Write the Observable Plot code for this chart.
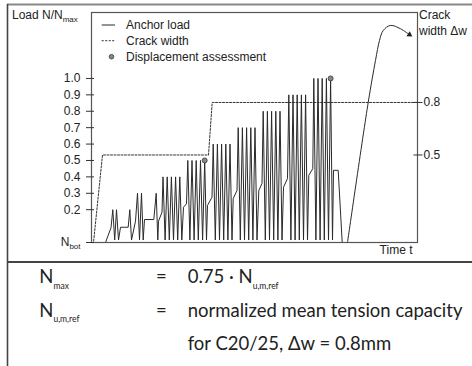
<!DOCTYPE html>
<html><head><meta charset="utf-8">
<script src="https://cdn.jsdelivr.net/npm/d3@7"></script>
<script src="https://cdn.jsdelivr.net/npm/@observablehq/plot@0.6"></script>
<style>
html,body{margin:0;padding:0;background:#fff;}
#wrap{position:relative;width:472px;height:366px;overflow:hidden;}
#bg{position:absolute;left:0;top:0;}
#chart{position:absolute;left:0;top:0;}
</style></head><body>
<div id="wrap"><svg id="bg" width="472" height="366"></svg><div id="chart"></div></div>
<script>
// ---- data (time in arbitrary units, load in N/Nmax, crack width in mm) ----
const loadT = [0, 14, 19.5, 21.3, 23.2, 25, 27, 29, 36.7, 38.3, 40, 44, 46, 48, 50, 51.7, 53, 62.3, 64.7, 66.3, 67, 70.5,
  71.5, 73.6, 75.7, 77.8, 79.9, 82, 84.1, 86.2, 88.3, 90.3,
  92, 95,
  96.3, 98.4, 100.5, 102.6, 104.7, 106.8, 109, 111.1, 113.2, 115,
  116, 120.5,
  121.7, 123.8, 125.9, 128, 130.1, 132.2, 134.3, 136.4, 138.5, 140.5,
  141.7, 145.5,
  146.7, 148.8, 150.9, 153, 155.1, 157.2, 159.3, 161.4, 163.5, 165.5,
  167.3, 170.5,
  171.7, 173.8, 175.9, 178, 180.1, 182.2, 184.3, 186.4, 188.5, 190.5,
  192, 196,
  197.3, 199.4, 201.5, 203.6, 205.7, 207.8, 209.9, 212, 214.1, 216,
  217.3, 221.3,
  222.3, 224.4, 226.5, 228.6, 230.7, 232.8, 234.9, 237, 239.1, 241,
  242, 246.7, 250.7, 256];
const loadN = [0, 0, 0.09, 0.2, 0.015, 0.2, 0.015, 0.093, 0.093, 0.2, 0.015, 0.13, 0.3, 0.015, 0.3, 0.015, 0.14, 0.14, 0.3, 0.015, 0.13, 0.185,
  0.4, 0.015, 0.4, 0.015, 0.4, 0.015, 0.4, 0.015, 0.4, 0.015,
  0.215, 0.236,
  0.5, 0.015, 0.5, 0.015, 0.5, 0.015, 0.5, 0.015, 0.5, 0.015,
  0.226, 0.276,
  0.6, 0.015, 0.6, 0.015, 0.6, 0.015, 0.6, 0.015, 0.6, 0.015,
  0.268, 0.317,
  0.7, 0.015, 0.7, 0.015, 0.7, 0.015, 0.7, 0.015, 0.7, 0.015,
  0.317, 0.36,
  0.8, 0.015, 0.8, 0.015, 0.8, 0.015, 0.8, 0.015, 0.8, 0.015,
  0.337, 0.39,
  0.9, 0.015, 0.9, 0.015, 0.9, 0.015, 0.9, 0.015, 0.9, 0.015,
  0.41, 0.45,
  1.0, 0.015, 1.0, 0.015, 1.0, 0.015, 1.0, 0.015, 1.0, 0.015,
  0.44, 0.44, 0, 0];
const crackT = [0, 2, 11, 117, 120.7, 326];
const crackW = [0, 0, 0.5, 0.5, 0.8, 0.8];
const failT = [256, 276.7, 284, 288, 291.7, 299, 309, 318];
const failW = [0, 0.8, 1.04, 1.154, 1.211, 1.24, 1.221, 1.187];
const assessT = [113.2, 239.1];
const assessN = [0.5, 1.0];
const loadTicks = [0, 0.2, 0.3, 0.4, 0.5, 0.6, 0.7, 0.8, 0.9, 1.0];
const loadTickLabels = ["Nbot", "0.2", "0.3", "0.4", "0.5", "0.6", "0.7", "0.8", "0.9", "1.0"];
const crackTicks = [0.5, 0.8];
const crackTickLabels = ["0.5", "0.8"];
const legendLabels = ["Anchor load", "Crack width", "Displacement assessment"];
const timeLabel = "Time t";

// ratio between right (crack width) and left (load) axis units
const k = 175 / 164;
const load = loadT.map((t, i) => ({t, n: loadN[i]}));
const crack = crackT.map((t, i) => ({t, n: crackW[i] * k}));
const fail = failT.map((t, i) => ({t, n: failW[i] * k}));
const assess = assessT.map((t, i) => ({t, n: assessN[i]}));
const crackTickPos = crackTicks.map(v => v * k);

const font = "'Liberation Sans', Arial, sans-serif";
const chart = Plot.plot({
  width: 472, height: 262,
  marginLeft: 91, marginRight: 55, marginTop: 12, marginBottom: 20,
  x: {domain: [0, 326], axis: null},
  y: {domain: [0, 1.402], axis: null},
  style: {fontFamily: font, fontSize: "12px", color: "#222", background: "transparent"},
  marks: [
    Plot.line(crack, {x: "t", y: "n", stroke: "#333", strokeWidth: 1, strokeDasharray: "2,1.5"}),
    Plot.line(load, {x: "t", y: "n", stroke: "#2a2a2a", strokeWidth: 1}),
    Plot.line(fail, {x: "t", y: "n", stroke: "#2a2a2a", strokeWidth: 1, curve: "catmull-rom"}),
    Plot.dot(fail.slice(-1), {x: "t", y: "n", symbol: "triangle", r: 2.2, fill: "#222", rotate: 124}),
    Plot.dot(assess, {x: "t", y: "n", r: 2.5, fill: "#888", stroke: "#333", strokeWidth: 0.8}),
    Plot.frame({stroke: "#555", strokeWidth: 1.2}),
    Plot.axisY(loadTicks, {anchor: "left", tickSize: 0, tickPadding: 11, tickFormat: d => loadTickLabels[loadTicks.indexOf(d)], label: null}),
    Plot.axisY(loadTicks, {anchor: "left", tickSize: 8, dx: 3, tickFormat: () => "", label: null, stroke: "#333"}),
    Plot.axisY(crackTickPos, {anchor: "right", tickSize: 0, tickPadding: 6, tickFormat: d => crackTickLabels[crackTickPos.indexOf(d)], label: null}),
    Plot.axisY(crackTickPos, {anchor: "right", tickSize: 9, dx: -4.5, tickFormat: () => "", label: null, stroke: "#333"}),
    Plot.text([timeLabel], {frameAnchor: "bottom-right", dx: -5, dy: 11, textAnchor: "end", fill: "#222"})
  ]
});
document.getElementById("chart").appendChild(chart);

const svg = d3.select(chart);
// subscript for N_bot tick label
svg.selectAll("text").each(function () {
  const t = d3.select(this);
  if (t.text() === "Nbot") {
    t.text("N");
    t.append("tspan").attr("font-size", "8px").attr("dy", "3").text("bot");
  }
});

// headers and legend
const g = svg.append("g").attr("font-family", font).attr("font-size", 12).attr("fill", "#222").attr("text-anchor", "start");
const lt = g.append("text").attr("x", 12).attr("y", 19.3);
lt.append("tspan").text("Load N/N");
lt.append("tspan").attr("font-size", 8).attr("dy", 3).text("max");
g.append("text").attr("x", 419).attr("y", 19).text("Crack");
g.append("text").attr("x", 419).attr("y", 35).text("width Δw");

g.append("line").attr("x1", 101.7).attr("x2", 115).attr("y1", 25).attr("y2", 25).attr("stroke", "#2a2a2a");
g.append("line").attr("x1", 101.7).attr("x2", 115).attr("y1", 40.7).attr("y2", 40.7).attr("stroke", "#333").attr("stroke-dasharray", "2,1.5");
g.append("circle").attr("cx", 111.5).attr("cy", 56.7).attr("r", 2.3).attr("fill", "#888").attr("stroke", "#333").attr("stroke-width", 0.8);
[29.3, 45, 60.7].forEach((y, i) => g.append("text").attr("x", 126).attr("y", y).text(legendLabels[i]));

// outer frame and formula block
const bg = d3.select("#bg");
bg.append("line").attr("x1", 7).attr("x2", 472).attr("y1", 4.5).attr("y2", 4.5).attr("stroke", "#888").attr("stroke-width", 1.8);
bg.append("line").attr("x1", 7.5).attr("x2", 7.5).attr("y1", 4).attr("y2", 366).attr("stroke", "#444").attr("stroke-width", 1.6);
bg.append("line").attr("x1", 7).attr("x2", 472).attr("y1", 262).attr("y2", 262).attr("stroke", "#444").attr("stroke-width", 2);

const fg = bg.append("g").attr("font-family", "Lato, 'Open Sans', sans-serif").attr("font-size", 18.5).attr("fill", "#222");
function sub(x, y, main, s) {
  const t = fg.append("text").attr("x", x).attr("y", y);
  t.append("tspan").text(main);
  t.append("tspan").attr("font-size", 8.5).attr("dy", 5.5).text(s);
}
sub(39.3, 283.3, "N", "max");
fg.append("text").attr("x", 156).attr("y", 283.3).text("=");
sub(187.7, 283.3, "0.75 · N", "u,m,ref");
sub(39.3, 316.7, "N", "u,m,ref");
fg.append("text").attr("x", 156).attr("y", 316.7).text("=");
fg.append("text").attr("x", 187.7).attr("y", 316.7).text("normalized mean tension capacity");
fg.append("text").attr("x", 187.7).attr("y", 350).text("for C20/25, Δw = 0.8mm");
</script>
</body></html>
